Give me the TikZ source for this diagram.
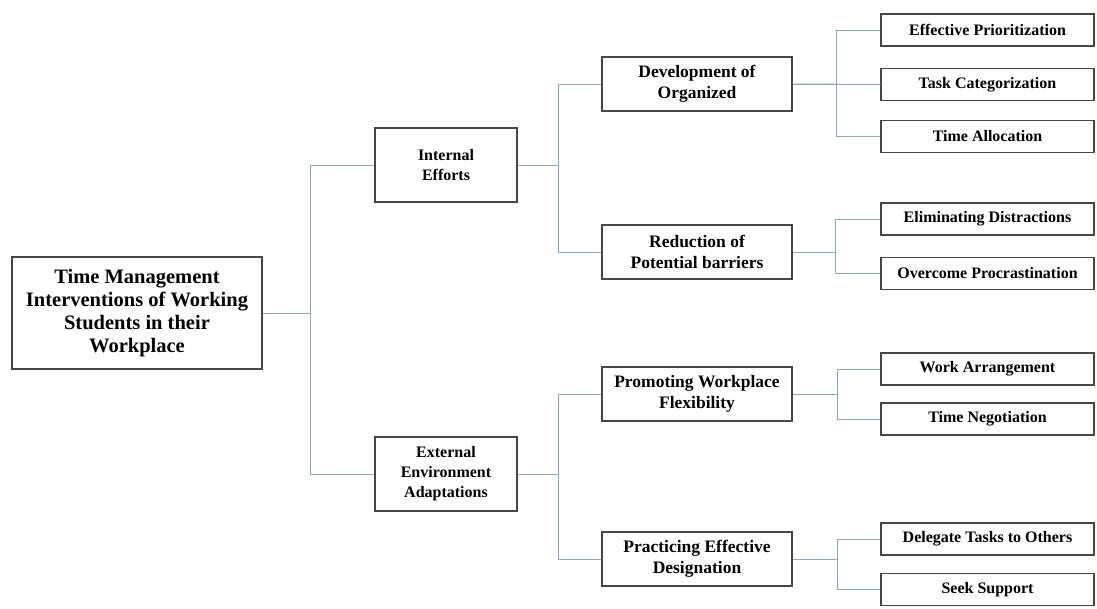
\documentclass[tikz,border=0pt]{standalone}
\usepackage{fontspec}
\setmainfont{Liberation Serif}
\definecolor{boxgray}{RGB}{70,70,70}
\definecolor{linkblue}{RGB}{140,165,200}
\begin{document}
\begin{tikzpicture}[x=1pt,y=-1pt,
  box/.style={draw=boxgray, line width=1.2pt, fill=white, align=center, font=\bfseries, inner sep=1pt},
  rootbox/.style={box, minimum width=250pt, minimum height=112pt, font=\bfseries\fontsize{20.5}{23}\selectfont},
  midbox/.style={box, minimum width=142pt, minimum height=74pt, font=\bfseries\fontsize{16}{20}\selectfont},
  subbox/.style={box, minimum width=190pt, minimum height=54pt, font=\bfseries\fontsize{17.5}{21}\selectfont},
  leafbox/.style={box, minimum width=213pt, minimum height=32pt, font=\bfseries\fontsize{16}{18}\selectfont},
  link/.style={draw=linkblue, line width=1pt}]
\useasboundingbox (0,0) rectangle (1097,608);
\node[rootbox] (root) at (137,313) {Time Management\\Interventions of Working\\Students in their\\Workplace};
\node[midbox] (int) at (446,165) {Internal\\Efforts};
\node[midbox] (ext) at (446,474) {External\\Environment\\Adaptations};
\node[subbox] (dev) at (697,84) {Development of\\Organized};
\node[subbox] (red) at (697,252) {Reduction of\\Potential barriers};
\node[subbox] (pro) at (697,394) {Promoting Workplace\\Flexibility};
\node[subbox] (pra) at (697,559) {Practicing Effective\\Designation};
\node[leafbox] (ep) at (987.5,30) {Effective Prioritization};
\node[leafbox] (tc) at (987.5,84.5) {Task Categorization};
\node[leafbox] (ta) at (987.5,136.5) {Time Allocation};
\node[leafbox] (ed) at (987.5,219) {Eliminating Distractions};
\node[leafbox] (op) at (987.5,273.5) {Overcome Procrastination};
\node[leafbox] (wa) at (987.5,369) {Work Arrangement};
\node[leafbox] (tn) at (987.5,419) {Time Negotiation};
\node[leafbox] (dt) at (987.5,539) {Delegate Tasks to Others};
\node[leafbox] (ss) at (987.5,589.5) {Seek Support};
\draw[link] (root.east) -- ++(48,0) |- (int.west);
\draw[link] (root.east) -- ++(48,0) |- (ext.west);
\draw[link] (int.east) -- ++(41,0) |- (dev.west);
\draw[link] (int.east) -- ++(41,0) |- (red.west);
\draw[link] (ext.east) -- ++(41,0) |- (pro.west);
\draw[link] (ext.east) -- ++(41,0) |- (pra.west);
\draw[link] (dev.east) -- ++(44,0) |- (ep.west);
\draw[link] (dev.east) -- (tc.west);
\draw[link] (dev.east) -- ++(44,0) |- (ta.west);
\draw[link] (red.east) -- ++(43,0) |- (ed.west);
\draw[link] (red.east) -- ++(43,0) |- (op.west);
\draw[link] (pro.east) -- ++(45,0) |- (wa.west);
\draw[link] (pro.east) -- ++(45,0) |- (tn.west);
\draw[link] (pra.east) -- ++(45,0) |- (dt.west);
\draw[link] (pra.east) -- ++(45,0) |- (ss.west);
\end{tikzpicture}
\end{document}
